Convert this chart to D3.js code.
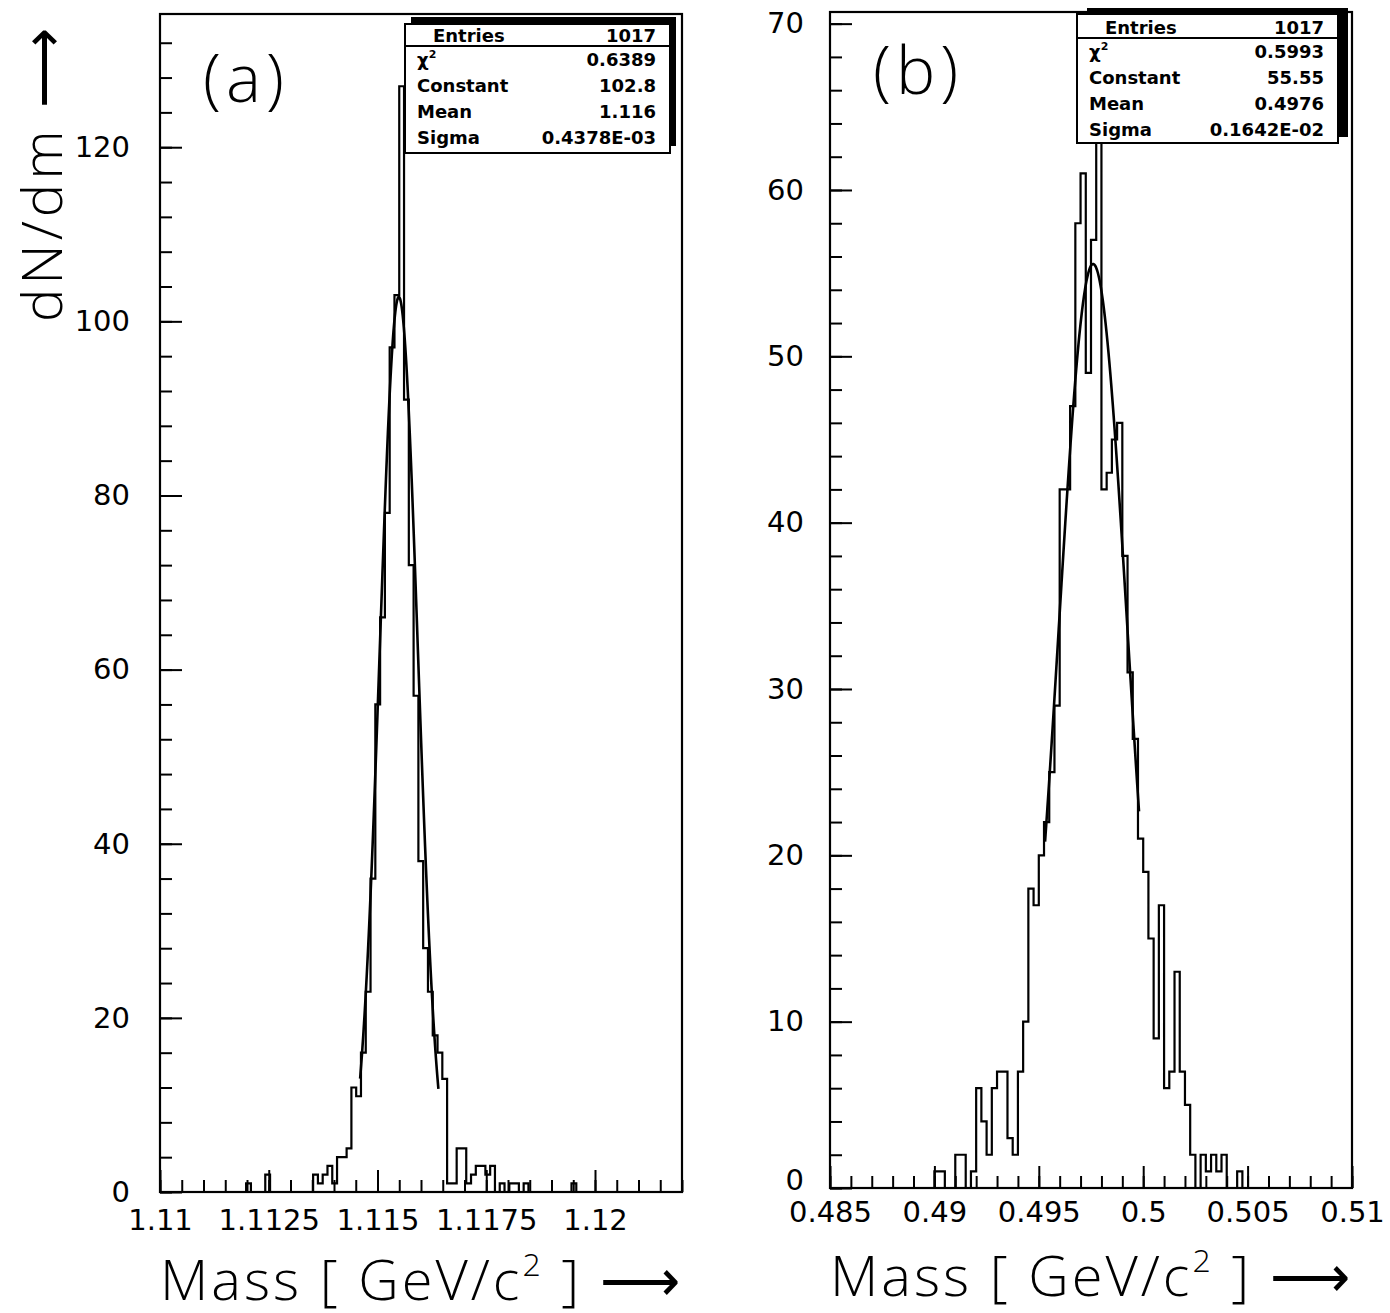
<!DOCTYPE html>
<html>
<head>
<meta charset="utf-8">
<script src="https://cdn.jsdelivr.net/npm/d3@7"></script>
<style>
  body { margin: 0; background: #fff; }
  svg { display: block; }
  .tick text { font-family: "DejaVu Sans", sans-serif; font-size: 29px; fill: #000; }
  .tick line { stroke: #000; stroke-width: 2px; }
  .big { font-family: "Open Sans", "DejaVu Sans", sans-serif; font-weight: 300; fill: #000; }
  .stat { font-family: "DejaVu Sans", sans-serif; font-size: 18px; font-weight: bold; fill: #000; }
</style>
</head>
<body>
<div id="chart"></div>
<script>
// ---- panel (a): Lambda mass ----
var binStartA = 1.11;
var binWidthA = 0.00011;
var countsA = [
  0,0,0,0,0,0,0,0,0,0, 0,0,0,0,0,0,0,0,1,0,
  0,0,2,0,0,0,0,0,0,0, 0,0,2,1,2,3,1,4,4,5,
  12,11,16,23,36,56,66,78,97,103, 127,91,72,57,38,28,23,18,16,13,
  1,1,5,5,1,2,3,3,2,3, 0,1,0,1,1,0,1,0,0,0,
  0,0,0,0,0,0,1,0,0,0, 0,0,0,0,0,0,0,0,0,0,
  0,0,0,0,0,0,0,0,0
];
var fitA = { constant: 102.8, mean: 1.11549, sigma: 0.0004378, lo: 1.1146, hi: 1.1164 };
var statsA = [["Entries", "1017"], ["χ²", "0.6389"], ["Constant", "102.8"], ["Mean", "1.116"], ["Sigma", "0.4378E-03"]];
var xTicksA = [1.11, 1.1125, 1.115, 1.1175, 1.12];
var xTickLabelsA = ["1.11", "1.1125", "1.115", "1.1175", "1.12"];
var yTicksA = [0, 20, 40, 60, 80, 100, 120];

// ---- panel (b): K0s mass ----
var binStartB = 0.485;
var binWidthB = 0.00025;
var countsB = [
  0,0,0,0,0,0,0,0,0,0, 0,0,0,0,0,0,0,0,0,0,
  1,1,0,0,2,2,0,1,6,4, 2,6,7,7,3,2,7,10,18,17,
  20,22,25,29,42,42,47,58,61,49, 57,64,42,43,45,46,38,31,27,21,
  19,15,9,17,6,7,13,7,5,2, 0,2,1,2,1,2,0,0,1,0,
  0,0,0,0,0,0,0,0,0,0, 0,0,0,0,0,0,0,0,0,0
];
var fitB = { constant: 55.55, mean: 0.4976, sigma: 0.001642, lo: 0.4953, hi: 0.4998 };
var statsB = [["Entries", "1017"], ["χ²", "0.5993"], ["Constant", "55.55"], ["Mean", "0.4976"], ["Sigma", "0.1642E-02"]];
var xTicksB = [0.485, 0.49, 0.495, 0.5, 0.505, 0.51];
var xTickLabelsB = ["0.485", "0.49", "0.495", "0.5", "0.505", "0.51"];
var yTicksB = [0, 10, 20, 30, 40, 50, 60, 70];

var svg = d3.select("#chart")
  .append("svg")
  .attr("width", 1390)
  .attr("height", 1313);

svg.append("rect").attr("width", 1390).attr("height", 1313).attr("fill", "#fff");

function drawPanel(p) {
  var x = d3.scaleLinear().domain(p.xDomain).range([p.left, p.right]);
  var y = d3.scaleLinear().domain(p.yDomain).range([p.bottom, p.top]);

  var g = svg.append("g");

  // minor ticks
  g.append("g")
    .attr("transform", "translate(0," + p.bottom + ")")
    .call(d3.axisBottom(x).tickValues(d3.range(p.xDomain[0], p.xDomain[1] + 1e-9, p.xMinor)).tickSize(-12).tickFormat(""))
    .call(a => a.select(".domain").remove());
  g.append("g")
    .attr("transform", "translate(" + p.left + ",0)")
    .call(d3.axisLeft(y).tickValues(d3.range(0, p.yDomain[1], p.yMinor)).tickSize(-12).tickFormat(""))
    .call(a => a.select(".domain").remove());

  // major ticks with labels
  var xAxis = g.append("g")
    .attr("transform", "translate(0," + p.bottom + ")")
    .call(d3.axisBottom(x).tickValues(p.xTicks).tickSize(-22).tickPadding(p.xPad)
      .tickFormat((d, i) => p.xLabels[i]));
  xAxis.select(".domain").remove();
  xAxis.selectAll("text").attr("dy", "0.9em");

  var yAxis = g.append("g")
    .attr("transform", "translate(" + p.left + ",0)")
    .call(d3.axisLeft(y).tickValues(p.yTicks).tickSize(-22).tickPadding(p.yPad)
      .tickFormat(d3.format("d")));
  yAxis.select(".domain").remove();
  // the zero label sits a little higher, clear of the x labels
  yAxis.selectAll(".tick").filter(d => d === 0).select("text")
    .attr("dy", p.zeroDy);

  // frame
  g.append("rect")
    .attr("x", p.left).attr("y", p.top)
    .attr("width", p.right - p.left).attr("height", p.bottom - p.top)
    .attr("fill", "none").attr("stroke", "#000").attr("stroke-width", 2.2);

  // histogram
  var pts = [[p.binStart, 0]];
  p.counts.forEach(function(c, i) { pts.push([p.binStart + i * p.binWidth, c]); });
  var last = p.binStart + p.counts.length * p.binWidth;
  pts.push([last, p.counts[p.counts.length - 1]]);
  pts.push([last, 0]);
  var hist = d3.line()
    .x(d => x(d[0]))
    .y(d => y(d[1]))
    .curve(d3.curveStepAfter);
  g.append("path")
    .attr("d", hist(pts))
    .attr("fill", "none").attr("stroke", "#000").attr("stroke-width", 2.2);

  // gaussian fit
  var f = p.fit;
  var fitPts = d3.range(f.lo, f.hi, (f.hi - f.lo) / 200).concat([f.hi]).map(function(m) {
    return [m, f.constant * Math.exp(-0.5 * Math.pow((m - f.mean) / f.sigma, 2))];
  });
  g.append("path")
    .attr("d", d3.line().x(d => x(d[0])).y(d => y(d[1])).curve(d3.curveLinear)(fitPts))
    .attr("fill", "none").attr("stroke", "#000").attr("stroke-width", 2.6);

  // stats box
  var b = p.box;
  g.append("rect")
    .attr("x", b.x + b.sx).attr("y", b.y - b.sy)
    .attr("width", b.w).attr("height", b.h)
    .attr("fill", "#000");
  g.append("rect")
    .attr("x", b.x).attr("y", b.y)
    .attr("width", b.w).attr("height", b.h)
    .attr("fill", "#fff").attr("stroke", "#000").attr("stroke-width", 2);
  g.append("line")
    .attr("x1", b.x).attr("x2", b.x + b.w)
    .attr("y1", b.y + b.head).attr("y2", b.y + b.head)
    .attr("stroke", "#000").attr("stroke-width", 2);
  p.stats.forEach(function(s, i) {
    var ty = i === 0 ? b.y + b.head - 4 : b.y + b.head + 20 + (i - 1) * 26;
    var lab = g.append("text").attr("class", "stat")
      .attr("x", i === 0 ? b.x + 28 : b.x + 12).attr("y", ty);
    if (s[0] === "χ²") {
      lab.text("χ");
      lab.append("tspan").attr("dy", -8).attr("font-size", 11).text("2");
    } else {
      lab.text(s[0]);
    }
    g.append("text").attr("class", "stat")
      .attr("x", b.x + b.w - 14).attr("y", ty)
      .attr("text-anchor", "end").text(s[1]);
  });

  // panel tag
  g.append("text").attr("class", "big")
    .attr("x", p.tag.x).attr("y", p.tag.y)
    .attr("font-size", 66).attr("letter-spacing", 5).text(p.tag.text);

  // x title
  var xt = g.append("text").attr("class", "big")
    .attr("x", p.left).attr("y", p.bottom + 108)
    .attr("font-size", 56).attr("letter-spacing", 3);
  xt.append("tspan").text("Mass [ GeV/c");
  xt.append("tspan").attr("dy", -24).attr("font-size", 32).text("2");
  xt.append("tspan").attr("dy", 24).text(" ] ⟶");
}

drawPanel({
  left: 160, right: 682, top: 14, bottom: 1192,
  xDomain: [1.11, 1.122], yDomain: [0, 135.3],
  xMinor: 0.0005, yMinor: 4, yPad: 30, xPad: 12, zeroDy: "0.32em",
  xTicks: xTicksA, xLabels: xTickLabelsA, yTicks: yTicksA,
  binStart: binStartA, binWidth: binWidthA, counts: countsA, fit: fitA,
  stats: statsA,
  box: { x: 405, y: 24, w: 265, h: 129, head: 22, sx: 6, sy: 7 },
  tag: { x: 203, y: 102, text: "(a)" }
});

drawPanel({
  left: 830, right: 1352, top: 12, bottom: 1188,
  xDomain: [0.485, 0.51], yDomain: [0, 70.7],
  xMinor: 0.001, yMinor: 2, yPad: 26, xPad: 8, zeroDy: "0.05em",
  xTicks: xTicksB, xLabels: xTickLabelsB, yTicks: yTicksB,
  binStart: binStartB, binWidth: binWidthB, counts: countsB, fit: fitB,
  stats: statsB,
  box: { x: 1077, y: 14, w: 261, h: 129, head: 24, sx: 10, sy: 6 },
  tag: { x: 873, y: 94, text: "(b)" }
});

// y title, rotated
svg.append("text").attr("class", "big")
  .attr("transform", "translate(62,322) rotate(-90)")
  .attr("font-size", 56).attr("letter-spacing", 4)
  .text("dN/dm ⟶");
</script>
</body>
</html>
